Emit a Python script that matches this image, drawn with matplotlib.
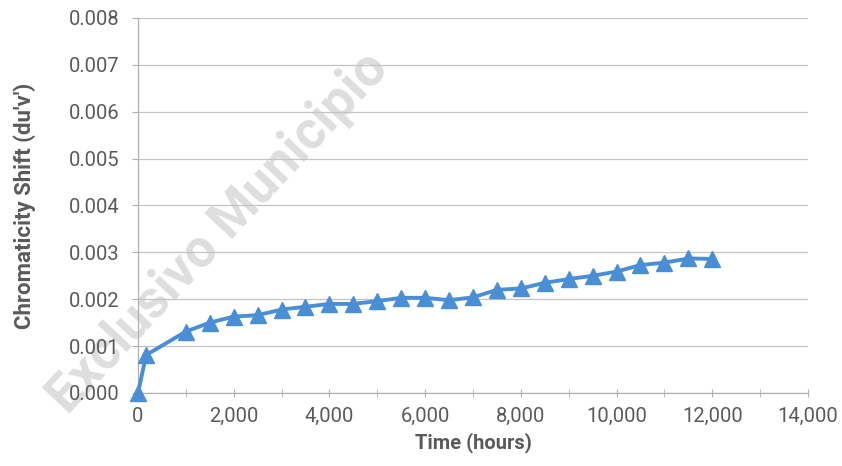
import matplotlib.pyplot as plt
from matplotlib.ticker import FuncFormatter, MultipleLocator

plt.rcParams['font.family'] = ['Roboto', 'DejaVu Sans']

# time in hours and chromaticity shift du'v'
hours = [0, 170, 1000, 1500, 2000, 2500, 3000, 3500, 4000, 4500, 5000,
         5500, 6000, 6500, 7000, 7500, 8000, 8500, 9000, 9500, 10000,
         10500, 11000, 11500, 12000]
shift = [0.0, 0.00081, 0.00131, 0.00150, 0.00163, 0.00166, 0.00178,
         0.00184, 0.00190, 0.00190, 0.00196, 0.00203, 0.00203, 0.00198,
         0.00204, 0.00220, 0.00223, 0.00235, 0.00243, 0.00250, 0.00259,
         0.00273, 0.00278, 0.00287, 0.00286]

blue = '#4a8fd6'
grey = '#5a5a5a'

fig = plt.figure(figsize=(8.42, 4.66), dpi=100)
ax = fig.add_axes([0.1639, 0.1567, 0.7957, 0.8047])
ax.patch.set_alpha(0)

# faded watermark behind the chart
fig.text(0.26, 0.50, 'Exclusivo Municipio', rotation=47, ha='center', va='center',
         fontsize=38, fontweight='bold', color='#dedede', zorder=-1)

ax.plot(hours, shift, color=blue, lw=2.8, marker='^', ms=11, zorder=3, clip_on=False)

ax.set_xlim(0, 14000)
ax.set_ylim(0, 0.008)
ax.xaxis.set_major_locator(MultipleLocator(2000))
ax.xaxis.set_minor_locator(MultipleLocator(1000))
ax.yaxis.set_major_locator(MultipleLocator(0.001))
ax.xaxis.set_major_formatter(FuncFormatter(lambda v, p: f'{v:,.0f}'))
ax.yaxis.set_major_formatter(FuncFormatter(lambda v, p: f'{v:.3f}'))

ax.grid(axis='y', color='#c4c4c4', lw=0.9)
ax.set_axisbelow(True)
for s in ['top', 'right']:
    ax.spines[s].set_visible(False)
for s in ['left', 'bottom']:
    ax.spines[s].set_color('#b0b0b0')
    ax.spines[s].set_linewidth(0.9)

ax.tick_params(axis='x', which='both', direction='inout', length=6, color='#b0b0b0',
               labelsize=14.5, labelcolor=grey, pad=7)
ax.tick_params(axis='y', direction='out', length=4, color='#b0b0b0',
               labelsize=14.5, labelcolor=grey, pad=9)

ax.set_xlabel('Time (hours)', fontsize=14.5, fontweight='bold', color=grey, labelpad=5)
ax.set_ylabel("Chromaticity Shift (du'v')", fontsize=16, fontweight='bold', color=grey,
              labelpad=24)

fig.savefig('out.png', dpi=100)
